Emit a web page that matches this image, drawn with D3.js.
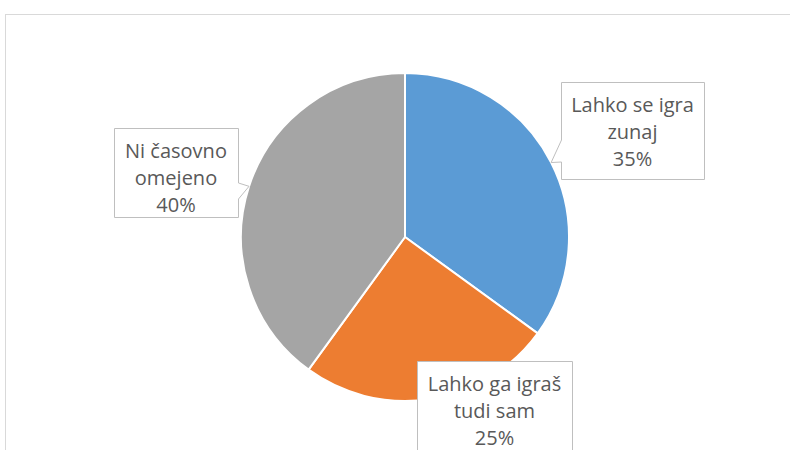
<!DOCTYPE html>
<html>
<head>
<meta charset="utf-8">
<script src="https://cdn.jsdelivr.net/npm/d3@7"></script>
<style>
  body { margin: 0; background: #fff; }
  svg { display: block; }
</style>
</head>
<body>
<svg id="chart" width="790" height="450"></svg>
<script>
// Data
const categories = ["Lahko se igra zunaj", "Lahko ga igraš tudi sam", "Ni časovno omejeno"];
const values = [35, 25, 40];
const labelLines = [
    ["Lahko se igra", "zunaj", "35%"],
    ["Lahko ga igraš", "tudi sam", "25%"],
    ["Ni časovno", "omejeno", "40%"]
];
const colors = ["#5b9bd5", "#ed7d31", "#a5a5a5"];

// Layout
const width = 790, height = 450;
const cx = 405, cy = 237, radius = 164;
// label boxes: x, y, w, h, and whether a pointer is drawn (left / right side)
const boxes = [
    { x: 561, y: 82, w: 143, h: 97, side: "left", p0: 140, p1: 162 },
    { x: 417, y: 361, w: 155, h: 110, side: null },
    { x: 114, y: 128, w: 124, h: 89, side: "right", p0: 183, p1: 199 }
];

const svg = d3.select("#chart");

// chart area border (extends past the window to the right and bottom)
svg.append("rect")
    .attr("x", 5.5)
    .attr("y", 14.5)
    .attr("width", 900)
    .attr("height", 600)
    .attr("fill", "#fff")
    .attr("stroke", "#d9d9d9")
    .attr("stroke-width", 1);

const pie = d3.pie().sort(null).value(d => d);
const arcs = pie(values);
const arc = d3.arc().innerRadius(0).outerRadius(radius);

const g = svg.append("g").attr("transform", `translate(${cx},${cy})`);

g.selectAll("path.slice")
    .data(arcs)
    .enter().append("path")
    .attr("class", "slice")
    .attr("d", arc)
    .attr("fill", (d, i) => colors[i])
    .attr("stroke", "#fff")
    .attr("stroke-width", 2)
    .attr("stroke-linejoin", "round");

// Callout labels
arcs.forEach((d, i) => {
    const b = boxes[i];
    const mid = (d.startAngle + d.endAngle) / 2;
    const tipX = cx + Math.sin(mid) * radius;
    const tipY = cy - Math.cos(mid) * radius;

    let pts;
    const x0 = b.x + 0.5, y0 = b.y + 0.5, x1 = b.x + b.w + 0.5, y1 = b.y + b.h + 0.5;
    if (b.side === "left") {
        pts = [[x0, y0], [x1, y0], [x1, y1], [x0, y1], [x0, b.p1], [tipX, tipY], [x0, b.p0]];
    } else if (b.side === "right") {
        pts = [[x0, y0], [x1, y0], [x1, b.p0], [tipX, tipY], [x1, b.p1], [x1, y1], [x0, y1]];
    } else {
        pts = [[x0, y0], [x1, y0], [x1, y1], [x0, y1]];
    }

    svg.append("path")
        .attr("d", d3.line()(pts) + "Z")
        .attr("fill", "#fff")
        .attr("stroke", "#bfbfbf")
        .attr("stroke-width", 1);

    const text = svg.append("text")
        .attr("text-anchor", "middle")
        .attr("font-family", "'Open Sans', sans-serif")
        .attr("font-size", 20)
        .attr("fill", "#595959");

    labelLines[i].forEach((line, j) => {
        text.append("tspan")
            .attr("x", b.x + b.w / 2)
            .attr("y", b.y + 30 + j * 27)
            .text(line);
    });
});
</script>
</body>
</html>
